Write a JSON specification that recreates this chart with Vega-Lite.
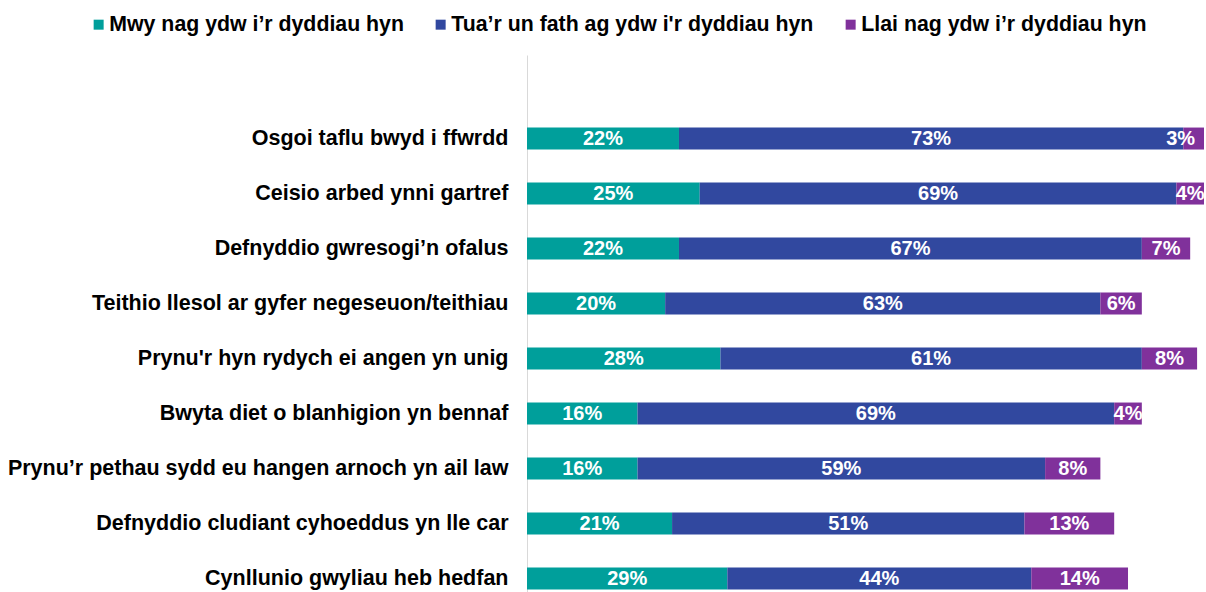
{
  "$schema": "https://vega.github.io/schema/vega-lite/v6.json",
  "autosize": {"type": "none"},
  "padding": {"left": 527, "top": 55, "right": 2, "bottom": 0},
  "width": 677,
  "height": 537,
  "background": "#ffffff",
  "config": {"view": {"stroke": null}, "font": "Liberation Sans"},
  "data": {
    "values": [
      {"item": "Osgoi taflu bwyd i ffwrdd", "resp": "Mwy nag ydw i’r dyddiau hyn", "k": 1, "v": 0.22},
      {"item": "Osgoi taflu bwyd i ffwrdd", "resp": "Tua’r un fath ag ydw i'r dyddiau hyn", "k": 2, "v": 0.73},
      {"item": "Osgoi taflu bwyd i ffwrdd", "resp": "Llai nag ydw i’r dyddiau hyn", "k": 3, "v": 0.03},
      {"item": "Ceisio arbed ynni gartref", "resp": "Mwy nag ydw i’r dyddiau hyn", "k": 1, "v": 0.25},
      {"item": "Ceisio arbed ynni gartref", "resp": "Tua’r un fath ag ydw i'r dyddiau hyn", "k": 2, "v": 0.69},
      {"item": "Ceisio arbed ynni gartref", "resp": "Llai nag ydw i’r dyddiau hyn", "k": 3, "v": 0.04},
      {"item": "Defnyddio gwresogi’n ofalus", "resp": "Mwy nag ydw i’r dyddiau hyn", "k": 1, "v": 0.22},
      {"item": "Defnyddio gwresogi’n ofalus", "resp": "Tua’r un fath ag ydw i'r dyddiau hyn", "k": 2, "v": 0.67},
      {"item": "Defnyddio gwresogi’n ofalus", "resp": "Llai nag ydw i’r dyddiau hyn", "k": 3, "v": 0.07},
      {"item": "Teithio llesol ar gyfer negeseuon/teithiau", "resp": "Mwy nag ydw i’r dyddiau hyn", "k": 1, "v": 0.20},
      {"item": "Teithio llesol ar gyfer negeseuon/teithiau", "resp": "Tua’r un fath ag ydw i'r dyddiau hyn", "k": 2, "v": 0.63},
      {"item": "Teithio llesol ar gyfer negeseuon/teithiau", "resp": "Llai nag ydw i’r dyddiau hyn", "k": 3, "v": 0.06},
      {"item": "Prynu'r hyn rydych ei angen yn unig", "resp": "Mwy nag ydw i’r dyddiau hyn", "k": 1, "v": 0.28},
      {"item": "Prynu'r hyn rydych ei angen yn unig", "resp": "Tua’r un fath ag ydw i'r dyddiau hyn", "k": 2, "v": 0.61},
      {"item": "Prynu'r hyn rydych ei angen yn unig", "resp": "Llai nag ydw i’r dyddiau hyn", "k": 3, "v": 0.08},
      {"item": "Bwyta diet o blanhigion yn bennaf", "resp": "Mwy nag ydw i’r dyddiau hyn", "k": 1, "v": 0.16},
      {"item": "Bwyta diet o blanhigion yn bennaf", "resp": "Tua’r un fath ag ydw i'r dyddiau hyn", "k": 2, "v": 0.69},
      {"item": "Bwyta diet o blanhigion yn bennaf", "resp": "Llai nag ydw i’r dyddiau hyn", "k": 3, "v": 0.04},
      {"item": "Prynu’r pethau sydd eu hangen arnoch yn ail law", "resp": "Mwy nag ydw i’r dyddiau hyn", "k": 1, "v": 0.16},
      {"item": "Prynu’r pethau sydd eu hangen arnoch yn ail law", "resp": "Tua’r un fath ag ydw i'r dyddiau hyn", "k": 2, "v": 0.59},
      {"item": "Prynu’r pethau sydd eu hangen arnoch yn ail law", "resp": "Llai nag ydw i’r dyddiau hyn", "k": 3, "v": 0.08},
      {"item": "Defnyddio cludiant cyhoeddus yn lle car", "resp": "Mwy nag ydw i’r dyddiau hyn", "k": 1, "v": 0.21},
      {"item": "Defnyddio cludiant cyhoeddus yn lle car", "resp": "Tua’r un fath ag ydw i'r dyddiau hyn", "k": 2, "v": 0.51},
      {"item": "Defnyddio cludiant cyhoeddus yn lle car", "resp": "Llai nag ydw i’r dyddiau hyn", "k": 3, "v": 0.13},
      {"item": "Cynllunio gwyliau heb hedfan", "resp": "Mwy nag ydw i’r dyddiau hyn", "k": 1, "v": 0.29},
      {"item": "Cynllunio gwyliau heb hedfan", "resp": "Tua’r un fath ag ydw i'r dyddiau hyn", "k": 2, "v": 0.44},
      {"item": "Cynllunio gwyliau heb hedfan", "resp": "Llai nag ydw i’r dyddiau hyn", "k": 3, "v": 0.14}
    ]
  },
  "encoding": {
    "y": {
      "field": "item",
      "type": "nominal",
      "sort": null,
      "scale": {"paddingInner": 0.6, "paddingOuter": 0.682, "align": 0.967},
      "axis": {
        "title": null,
        "ticks": false,
        "domainColor": "#D9D9D9",
        "domainWidth": 1,
        "labelPadding": 19,
        "labelFont": "Liberation Sans",
        "labelFontSize": 21.5,
        "labelFontWeight": "bold",
        "labelColor": "#000000",
        "labelLimit": 600
      }
    },
    "order": {"field": "k", "type": "quantitative"}
  },
  "layer": [
    {
      "mark": {"type": "bar"},
      "encoding": {
        "x": {
          "field": "v",
          "type": "quantitative",
          "stack": "zero",
          "scale": {"domain": [0, 0.98], "nice": false, "zero": true},
          "axis": null
        },
        "color": {
          "field": "resp",
          "type": "nominal",
          "scale": {
            "domain": ["Mwy nag ydw i’r dyddiau hyn", "Tua’r un fath ag ydw i'r dyddiau hyn", "Llai nag ydw i’r dyddiau hyn"],
            "range": ["#009F9B", "#31489F", "#80319B"]
          },
          "legend": {
            "title": null,
            "orient": "none",
            "direction": "horizontal",
            "legendX": -439,
            "legendY": -41,
            "symbolType": "square",
            "symbolSize": 100,
            "symbolStrokeWidth": 0,
            "labelOffset": 0,
            "columnPadding": 26,
            "labelFont": "Liberation Sans",
            "labelFontSize": 21.3,
            "labelFontWeight": "bold",
            "labelColor": "#000000",
            "labelLimit": 600
          }
        }
      }
    },
    {
      "mark": {"type": "text", "color": "#ffffff", "font": "Liberation Sans", "fontSize": 20, "fontWeight": "bold", "align": "center", "baseline": "middle"},
      "encoding": {
        "x": {"field": "v", "type": "quantitative", "stack": "zero", "bandPosition": 0.5},
        "text": {"condition": {"test": "datum.v > 0.035", "field": "v", "type": "quantitative", "format": ".0%"}, "value": ""}
      }
    },
    {
      "mark": {"type": "text", "color": "#ffffff", "font": "Liberation Sans", "fontSize": 20, "fontWeight": "bold", "align": "center", "baseline": "middle", "dx": -13},
      "encoding": {
        "x": {"field": "v", "type": "quantitative", "stack": "zero", "bandPosition": 0.5},
        "text": {"condition": {"test": "datum.v <= 0.035", "field": "v", "type": "quantitative", "format": ".0%"}, "value": ""}
      }
    }
  ]
}
